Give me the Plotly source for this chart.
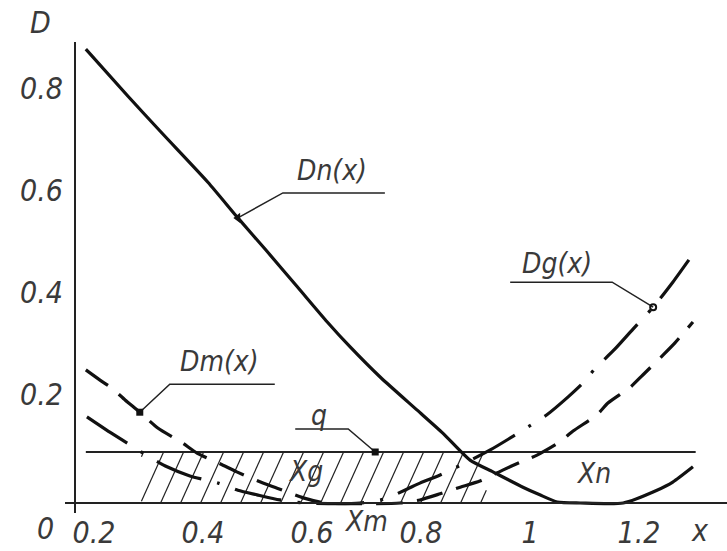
import numpy as np
import plotly.graph_objects as go

# ---------------- data ----------------
x_dn = [0.185, 0.262, 0.325, 0.409, 0.464, 0.517, 0.573, 0.628, 0.670, 0.725,
        0.793, 0.840, 0.890, 0.932, 0.987, 1.018, 1.050, 1.092, 1.171, 1.233, 1.262, 1.299]
d_dn = [0.890, 0.798, 0.725, 0.629, 0.559, 0.494, 0.424, 0.355, 0.306, 0.247,
        0.182, 0.137, 0.084, 0.061, 0.031, 0.016, 0.002, 0.0, 0.0, 0.025, 0.041, 0.071]

x_dg = [0.187, 0.229, 0.272, 0.299, 0.334, 0.376, 0.428, 0.464, 0.499, 0.541, 0.587,
        0.688, 0.734, 0.774, 0.798, 0.835, 0.884, 0.927, 0.960, 0.987, 1.031, 1.070,
        1.097, 1.119, 1.156, 1.189, 1.226, 1.262, 1.299]
d_dg = [0.169, 0.139, 0.110, 0.092, 0.071, 0.053, 0.039, 0.025, 0.016, 0.006, 0.0,
        0.0, 0.008, 0.027, 0.039, 0.055, 0.080, 0.104, 0.125, 0.143, 0.173, 0.208,
        0.235, 0.263, 0.302, 0.341, 0.384, 0.433, 0.488]

x_dm = [0.185, 0.211, 0.233, 0.257, 0.284, 0.317, 0.362, 0.389, 0.435, 0.462, 0.510,
        0.536, 0.584, 0.624, 0.762, 0.798, 0.835, 0.872, 0.908, 0.951, 0.982, 1.013,
        1.055, 1.079, 1.123, 1.143, 1.184, 1.207, 1.244, 1.266, 1.299]
d_dm = [0.261, 0.241, 0.225, 0.202, 0.178, 0.147, 0.118, 0.098, 0.075, 0.061, 0.039,
        0.029, 0.010, 0.0, 0.0, 0.006, 0.018, 0.031, 0.043, 0.065, 0.080, 0.094,
        0.120, 0.141, 0.173, 0.196, 0.227, 0.251, 0.290, 0.314, 0.355]

q = 0.1

x_tick_vals = [0.2, 0.4, 0.6, 0.8, 1.0, 1.2]
x_tick_text = ["0.2", "0.4", "0.6", "0.8", "1", "1.2"]
d_tick_vals = [0.2, 0.4, 0.6, 0.8]
d_tick_text = ["0.2", "0.4", "0.6", "0.8"]

curve_names = ["Dn(x)", "Dm(x)", "Dg(x)"]
region_names = ["Xg", "Xm", "Xn"]
axis_names = ["D", "x", "0"]

# points where the leaders touch the curves (x values)
mark_x_dn = 0.464
mark_x_dm = 0.284
mark_x_dg = 1.226
mark_x_q = 0.716

# ---------------- layout constants ----------------
W, H = 727, 551
PX_X = 545.0        # pixels per x unit
PX_D = 510.0        # pixels per D unit
X_REF_PX = 94.0     # pixel column of x = 0.2
D0_PX = 503.0       # pixel row of D = 0
ML, MR, MT, MB = 15, 0, 5, 10


def px_to_x(px):
    return 0.2 + (px - X_REF_PX) / PX_X


def py_to_d(py):
    return (D0_PX - py) / PX_D


x_range = [px_to_x(ML), px_to_x(W - MR)]
d_range = [py_to_d(H - MB), py_to_d(MT)]

INK = "#111111"
TXT = "#3a3a3a"
FONT = "Liberation Sans Narrow, DejaVu Sans Condensed, Arial Narrow, sans-serif"

fig = go.Figure()

# ---------------- hatched region X_g (Dg <= q) ----------------
xg = np.array(x_dg)
dg = np.array(d_dg)
diff = dg - q
cross = []
for i in range(len(xg) - 1):
    if diff[i] == 0:
        cross.append(xg[i])
    elif diff[i] * diff[i + 1] < 0:
        t = diff[i] / (diff[i] - diff[i + 1])
        cross.append(xg[i] + t * (xg[i + 1] - xg[i]))
xL, xR = cross[0], cross[-1]

spacing = 20.0 / PX_X
run = 23.0 / PX_X          # horizontal run of a hatch line over the height q
hx, hy = [], []
b = xL + 0.004 - run - spacing * 2
while b < xR:
    t0 = max(0.0, (xL - b) / run)
    t1 = min(1.0, (xR - b) / run)
    if t1 > t0:
        hx += [b + run * t0, b + run * t1, None]
        hy += [q * t0, q * t1, None]
    b += spacing
fig.add_trace(go.Scatter(x=hx, y=hy, mode="lines",
                         line=dict(color="#222222", width=1.2), hoverinfo="skip"))

# ---------------- q line ----------------
x_all_min = min(x_dn[0], x_dg[0], x_dm[0])
x_all_max = max(x_dn[-1], x_dg[-1], x_dm[-1])
fig.add_trace(go.Scatter(x=[x_all_min, x_all_max + 0.005], y=[q, q], mode="lines",
                         line=dict(color="#222222", width=2)))

# ---------------- curves ----------------
fig.add_trace(go.Scatter(x=x_dm, y=d_dm, mode="lines",
                         line=dict(color=INK, width=3.2, dash="27px,14px",
                                   shape="spline", smoothing=0.6)))
fig.add_trace(go.Scatter(x=x_dg, y=d_dg, mode="lines",
                         line=dict(color=INK, width=3.2, dash="48px,16px,3px,16px",
                                   shape="spline", smoothing=0.6)))
fig.add_trace(go.Scatter(x=x_dn, y=d_dn, mode="lines",
                         line=dict(color=INK, width=3.2, shape="spline", smoothing=0.6)))


# ---------------- leaders ----------------
def leader(ax, ad, pts):
    xs = [ax + dx / PX_X for dx, dy in pts]
    ys = [ad + dy / PX_D for dx, dy in pts]
    fig.add_trace(go.Scatter(x=xs, y=ys, mode="lines",
                             line=dict(color="#222222", width=1.5), hoverinfo="skip"))


a_dn = (mark_x_dn, float(np.interp(mark_x_dn, x_dn, d_dn)))
a_dm = (mark_x_dm, float(np.interp(mark_x_dm, x_dm, d_dm)))
a_dg = (mark_x_dg, float(np.interp(mark_x_dg, x_dg, d_dg)))
a_q = (mark_x_q, q)

leader(*a_dn, [(0, 0), (45, 25), (147, 25)])
leader(*a_dm, [(0, 0), (30, 28), (135, 28)])
leader(*a_dg, [(0, 0), (-41, 25), (-143, 25)])
leader(*a_q, [(0, 0), (-27, 23), (-80, 23)])

fig.add_trace(go.Scatter(x=[a_dm[0], a_q[0]], y=[a_dm[1], a_q[1]], mode="markers",
                         marker=dict(symbol="square", size=7, color=INK)))
fig.add_trace(go.Scatter(x=[a_dn[0]], y=[a_dn[1]], mode="markers",
                         marker=dict(symbol="triangle-left", size=9, color=INK)))
fig.add_trace(go.Scatter(x=[a_dg[0]], y=[a_dg[1]], mode="markers",
                         marker=dict(symbol="circle-open", size=6, color=INK,
                                     line=dict(width=2))))

# ---------------- annotations ----------------
tfont = dict(family=FONT, size=30, color=TXT, style="italic")
lfont = dict(family=FONT, size=28, color=TXT, style="italic")
ann = []


def label(text, x, y, xs=0, ys=0, font=tfont):
    ann.append(dict(text=text, x=x, y=y, xref="x", yref="y", xshift=xs, yshift=ys,
                    showarrow=False, font=font, xanchor="center", yanchor="middle"))


label(curve_names[0], *a_dn, 94, 47, lfont)
label(curve_names[1], *a_dm, 80, 51, lfont)
label(curve_names[2], *a_dg, -96, 44, lfont)
label("q", *a_q, -56, 37, lfont)

label(region_names[0], px_to_x(305), py_to_d(471), font=lfont)
label(region_names[1], px_to_x(366), py_to_d(521), font=lfont)
label(region_names[2], px_to_x(593), py_to_d(473), font=lfont)

label(axis_names[0], px_to_x(40), py_to_d(22))
label(axis_names[1], px_to_x(700), py_to_d(530))
label(axis_names[2], px_to_x(45), py_to_d(528))

# ---------------- axes lines ----------------
shapes = [
    dict(type="line", xref="x", yref="y", x0=px_to_x(65), x1=x_range[1], y0=0, y1=0,
         line=dict(color="#222222", width=2)),
    dict(type="line", xref="x", yref="y", x0=px_to_x(75), x1=px_to_x(75),
         y0=py_to_d(513), y1=py_to_d(42), line=dict(color="#222222", width=2)),
]

plot_w = W - ML - MR
plot_h = H - MT - MB

fig.update_layout(
    width=W, height=H,
    margin=dict(l=ML, r=MR, t=MT, b=MB),
    paper_bgcolor="white", plot_bgcolor="white",
    showlegend=False,
    hovermode=False,
    annotations=ann,
    shapes=shapes,
    xaxis=dict(range=x_range, showgrid=False, zeroline=False, showline=False,
               tickvals=x_tick_vals, ticktext=x_tick_text, ticks="",
               anchor="free", position=(H - MB - D0_PX) / plot_h,
               tickfont=tfont, ticklabelstandoff=9),
    yaxis=dict(range=d_range, showgrid=False, zeroline=False, showline=False,
               tickvals=d_tick_vals, ticktext=d_tick_text, ticks="",
               anchor="free", position=(75 - ML) / plot_w,
               tickfont=tfont, ticklabelstandoff=12, ticklabelshift=-7),
)

fig.write_html("out.html", config={"displayModeBar": False},
               post_script="document.body.style.margin='0';")
